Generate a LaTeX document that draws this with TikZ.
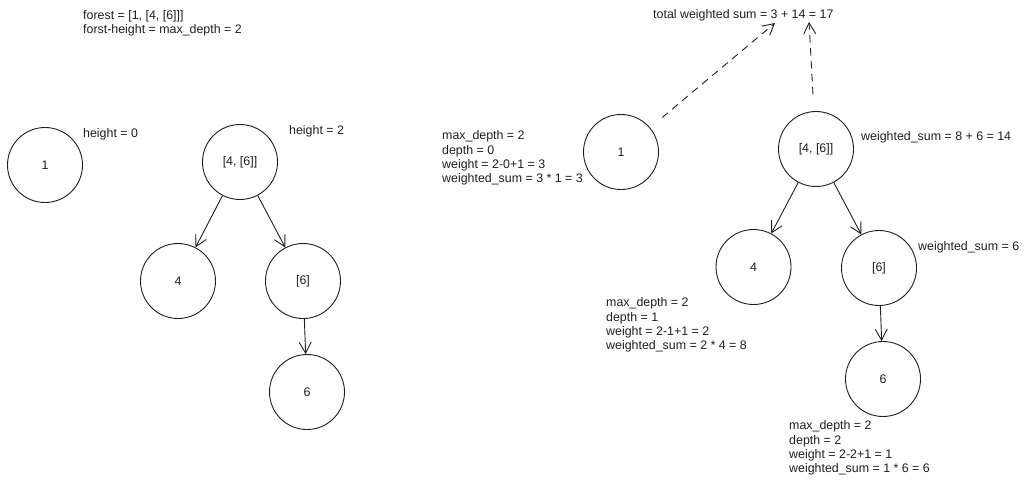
\documentclass[tikz,border=0pt]{standalone}
\usepackage{fontspec}
\setmainfont{Liberation Sans}
\usetikzlibrary{arrows.meta}
\definecolor{ink}{HTML}{1E1E1E}
\begin{document}
\begin{tikzpicture}[x=1pt, y=-1pt, >={Straight Barb[length=11pt,width=12pt]}, line join=round, line cap=round,
    font=\fontsize{12.4}{14.4}\selectfont, text=ink,
    ring/.style={draw=ink, line width=0.9pt, circle, minimum size=75pt, inner sep=0pt},
    note/.style={anchor=west, align=left, inner sep=0pt},
    link/.style={draw=ink, line width=0.9pt, ->},
    dlink/.style={link, dash pattern=on 7pt off 6pt}]
            \useasboundingbox (0,0) rectangle (1024,485);
            \node[note] (forest) at (83,23) {forest = [1, [4, [6]]]\\forst-height = max\_depth = 2};
            \node[ring] (a1) at (45,165) {1};
            \node[note] (h0) at (83,134) {height = 0};
            \node[ring] (a46) at (240,162) {[4, [6]]};
            \node[note] (h2) at (289,131) {height = 2};
            \node[ring] (a4) at (178,281) {4};
            \node[ring] (a6b) at (303,281) {[6]};
            \node[ring] (a6) at (307,392) {6};
            \draw[link] (a46) -- (a4);
            \draw[link] (a46) -- (a6b);
            \draw[link] (a6b) -- (a6);
            \node[note] (total) at (653,15) {total weighted sum = 3 + 14 = 17};
            \node[ring] (b1) at (621,152) {1};
            \node[note] (w1) at (442,158) {max\_depth = 2\\depth = 0\\weight = 2-0+1 = 3\\weighted\_sum = 3 * 1 = 3};
            \node[ring] (b46) at (816,149) {[4, [6]]};
            \node[note] (ws46) at (861,137) {weighted\_sum = 8 + 6 = 14};
            \node[ring] (b4) at (753.5,267) {4};
            \node[note] (w4) at (606,325) {max\_depth = 2\\depth = 1\\weight = 2-1+1 = 2\\weighted\_sum = 2 * 4 = 8};
            \node[ring] (b6b) at (879,268) {[6]};
            \node[note] (ws6b) at (918,247) {weighted\_sum = 6};
            \node[ring] (b6) at (883,379) {6};
            \node[note] (w6) at (789,448) {max\_depth = 2\\depth = 2\\weight = 2-2+1 = 1\\weighted\_sum = 1 * 6 = 6};
            \draw[link] (b46) -- (b4);
            \draw[link] (b46) -- (b6b);
            \draw[link] (b6b) -- (b6);
            \coordinate (t1) at (775,23);
            \coordinate (t2) at (809,22);
            \draw[dlink, shorten <=16pt] (b1) -- (t1);
            \draw[dlink, shorten <=17pt] (b46) -- (t2);
\end{tikzpicture}
\end{document}
